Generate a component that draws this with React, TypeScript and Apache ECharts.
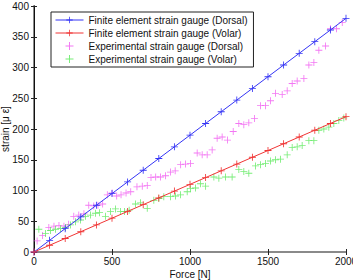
import React, { useEffect, useRef } from "react";
import * as echarts from "echarts";

// Finite element model, sampled every 100 N
const feForce = [0, 100, 200, 300, 400, 500, 600, 700, 800, 900, 1000, 1100, 1200, 1300, 1400, 1500, 1600, 1700, 1800, 1900, 2000];
const feDorsal = [0, 19, 38, 57, 76, 95, 114, 133, 152, 171, 190, 209, 228, 247, 266, 285, 304, 323, 342, 361, 380];
const feVolar = [0, 11, 22, 33, 44, 55, 66, 77, 88, 99, 110, 121, 132, 143, 154, 165, 176, 187, 198, 209, 220];

// Experimental strain gauge readings
const expDorsalForce = [20, 55, 95, 128, 160, 192, 222, 255, 287, 320, 351, 383, 410, 440, 470, 501, 530, 558, 590, 620, 660, 694, 726, 750, 780, 811, 843, 875, 905, 940, 971, 1003, 1046, 1078, 1110, 1142, 1174, 1206, 1240, 1277, 1313, 1345, 1377, 1413, 1452, 1484, 1516, 1548, 1591, 1623, 1655, 1687, 1730, 1762, 1794, 1826, 1869, 1901, 1939, 1976];
const expDorsal = [18, 27, 40, 42, 43, 42, 45, 58, 60, 62, 76, 75, 76, 78, 93, 96, 91, 93, 96, 98, 106, 107, 108, 121, 122, 122, 124, 130, 132, 142, 143, 144, 161, 158, 158, 166, 185, 187, 182, 196, 209, 207, 210, 217, 238, 238, 246, 258, 256, 262, 274, 278, 282, 304, 308, 328, 335, 363, 363, 373];

const expVolarForce = [31, 74, 106, 138, 170, 202, 234, 266, 298, 330, 362, 394, 420, 458, 490, 522, 554, 580, 610, 651, 683, 726, 768, 800, 832, 875, 907, 939, 982, 1003, 1035, 1067, 1100, 1153, 1185, 1228, 1270, 1313, 1345, 1377, 1420, 1452, 1484, 1516, 1548, 1580, 1623, 1655, 1687, 1719, 1762, 1794, 1826, 1858, 1890, 1922, 1954, 1986];
const expVolar = [37, 30, 35, 37, 38, 40, 44, 49, 52, 58, 60, 63, 64, 58, 66, 70, 66, 66, 68, 78, 80, 71, 84, 87, 90, 90, 91, 93, 98, 103, 104, 111, 107, 122, 120, 122, 122, 134, 131, 128, 140, 142, 144, 148, 150, 151, 158, 170, 171, 173, 181, 181, 198, 200, 203, 209, 214, 218];

const seriesNames = [
  "Finite element strain gauge (Dorsal)",
  "Finite element strain gauge (Volar)",
  "Experimental strain gauge (Dorsal)",
  "Experimental strain gauge (Volar)",
];

const xTicks = { min: 0, max: 2000, interval: 500 };
const yTicks = { min: 0, max: 400, interval: 50 };

const PLUS = "path://M4.4,0H5.6V4.4H10V5.6H5.6V10H4.4V5.6H0V4.4H4.4Z";
const FONT = "'Liberation Sans', Arial, sans-serif";

const zip = (xs: number[], ys: number[]) => xs.map((x, i) => [x, ys[i]]);
const plain = (v: number) => String(v);

export default function App() {
  const ref = useRef<HTMLDivElement>(null);

  useEffect(() => {
    if (!ref.current) return;
    const chart = echarts.init(ref.current, undefined, { renderer: "svg" });

    const tick = { show: true, inside: true, length: 3, lineStyle: { color: "#222", width: 1 } };
    const grayLine = { show: true, lineStyle: { color: "#8a8a8a", width: 2 } };

    chart.setOption({
      animation: false,
      backgroundColor: "#fff",
      textStyle: { fontFamily: FONT },
      grid: { left: 34, right: 7, top: 6, bottom: 28, containLabel: false, outerBoundsMode: "none" },
      legend: {
        orient: "vertical",
        left: 51,
        top: 12,
        padding: [2, 6, 2, 4],
        itemWidth: 28,
        itemHeight: 8,
        itemGap: 1,
        backgroundColor: "#fff",
        borderColor: "#222",
        borderWidth: 1,
        borderRadius: 0,
        data: seriesNames,
        lineStyle: { width: 1 },
        textStyle: { fontSize: 10, color: "#111", fontFamily: FONT, lineHeight: 12 },
      },
      xAxis: [
        {
          type: "value",
          ...xTicks,
          name: "Force [N]",
          nameLocation: "middle",
          nameGap: 17,
          nameMoveOverlap: false,
          nameTextStyle: { fontSize: 10, color: "#111", fontFamily: FONT },
          axisLine: grayLine,
          axisTick: tick,
          axisLabel: { fontSize: 10, color: "#111", margin: 4, fontFamily: FONT, formatter: plain },
          splitLine: { show: false },
        },
        {
          type: "value",
          position: "top",
          ...xTicks,
          axisLine: grayLine,
          axisTick: tick,
          axisLabel: { show: false },
          splitLine: { show: false },
        },
      ],
      yAxis: [
        {
          type: "value",
          ...yTicks,
          name: "strain [\u03bc \u03b5]",
          nameLocation: "middle",
          nameGap: 24,
          nameMoveOverlap: false,
          nameTextStyle: { fontSize: 10, color: "#111", fontFamily: FONT },
          axisLine: grayLine,
          axisTick: tick,
          axisLabel: { fontSize: 10, color: "#111", margin: 5, fontFamily: FONT, formatter: plain },
          splitLine: { show: false },
        },
        {
          type: "value",
          position: "right",
          ...yTicks,
          axisLine: { show: true, lineStyle: { color: "#111", width: 1 } },
          axisTick: tick,
          axisLabel: { show: false },
          splitLine: { show: false },
        },
      ],
      series: [
        {
          name: seriesNames[0],
          type: "line",
          data: zip(feForce, feDorsal),
          symbol: PLUS,
          symbolSize: 7,
          color: "#3535f5",
          lineStyle: { color: "#3535f5", width: 1 },
          itemStyle: { color: "#3535f5" },
          z: 3,
        },
        {
          name: seriesNames[1],
          type: "line",
          data: zip(feForce, feVolar),
          symbol: PLUS,
          symbolSize: 7,
          color: "#f03535",
          lineStyle: { color: "#f03535", width: 1 },
          itemStyle: { color: "#f03535" },
          z: 3,
        },
        {
          name: seriesNames[2],
          type: "scatter",
          data: zip(expDorsalForce, expDorsal),
          symbol: PLUS,
          symbolSize: 7,
          color: "#f055f0",
          itemStyle: { color: "#f055f0" },
          z: 2,
        },
        {
          name: seriesNames[3],
          type: "scatter",
          data: zip(expVolarForce, expVolar),
          symbol: PLUS,
          symbolSize: 7,
          color: "#55e855",
          itemStyle: { color: "#55e855" },
          z: 2,
        },
      ],
    });

    return () => chart.dispose();
  }, []);

  return (
    <div
      ref={ref}
      style={{ position: "fixed", left: 0, top: 0, width: 353, height: 280, background: "#fff" }}
    />
  );
}
